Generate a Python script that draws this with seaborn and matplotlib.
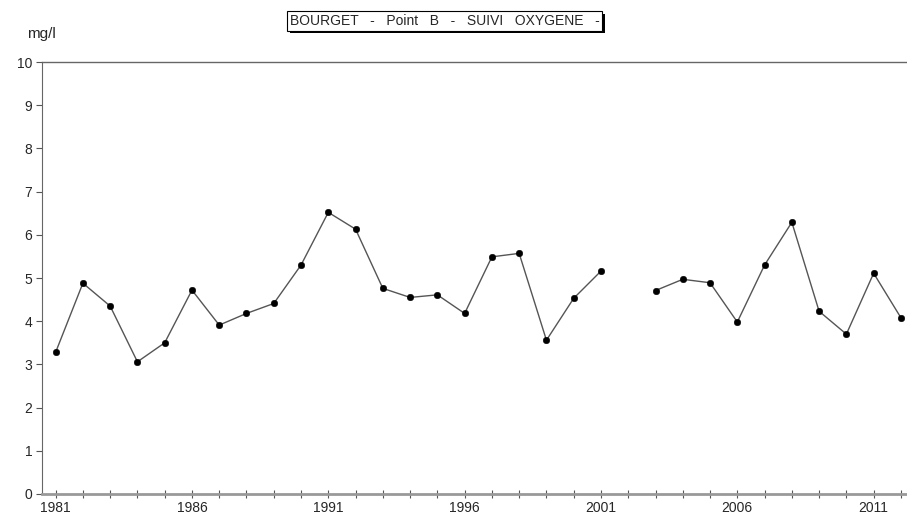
import numpy as np
import pandas as pd
import seaborn as sns
import matplotlib.pyplot as plt
import matplotlib.patheffects as pe
from matplotlib.ticker import MultipleLocator

# valeurs (2002 manquant)
years = list(range(1981, 2013))
oxygen = [3.28, 4.88, 4.35, 3.06, 3.50, 4.72, 3.91, 4.18, 4.41, 5.30,
          6.52, 6.13, 4.76, 4.55, 4.61, 4.18, 5.49, 5.57, 3.56, 4.53,
          5.16, np.nan, 4.71, 4.97, 4.89, 3.98, 5.30, 6.29, 4.23, 3.70,
          5.11, 4.08]
xtick_years = [1981, 1986, 1991, 1996, 2001, 2006, 2011]

data = pd.DataFrame({"annee": years, "o2": oxygen})
# segment pour couper la ligne au trou de 2002
data["segment"] = data["o2"].isna().cumsum()
data = data.dropna()

sns.set_style("white")
plt.rcParams["font.family"] = ["Liberation Sans", "DejaVu Sans"]

fig = plt.figure(figsize=(9.07, 5.19), dpi=100)
ax = fig.add_axes([0.0463, 0.0482, 0.953, 0.8323])

sns.lineplot(data=data, x="annee", y="o2", units="segment", estimator=None,
             color="#555555", linewidth=1.0, ax=ax)
sns.scatterplot(data=data, x="annee", y="o2", color="black", s=22,
                edgecolor="black", ax=ax, zorder=3)

ax.set_xlim(1980.5, 2012.2)
ax.set_ylim(0, 10)
ax.set_xticks(xtick_years)
ax.xaxis.set_minor_locator(MultipleLocator(1))
ax.yaxis.set_major_locator(MultipleLocator(1))
ax.set_xlabel("")
ax.set_ylabel("")

# axes façon tableur
ax.spines["right"].set_visible(False)
ax.spines["top"].set_color("#666666")
ax.spines["top"].set_linewidth(1.0)
ax.spines["left"].set_color("#666666")
ax.spines["bottom"].set_color("#999999")
ax.spines["bottom"].set_linewidth(2.0)
ax.tick_params(axis="x", which="both", direction="inout", length=6,
               width=0.8, color="#555555", labelsize=10, pad=2, bottom=True)
ax.tick_params(axis="y", which="major", direction="out", length=4,
               width=0.8, color="#555555", labelsize=10, left=True, pad=3)

fig.text(0.046, 0.935, "mg/l", fontsize=11, ha="center", va="center")

# titre encadré avec ombre
title = "BOURGET   -   Point   B   -   SUIVI   OXYGENE   -"
t = fig.text(0.49, 0.960, title, fontsize=10, ha="center", va="center",
             bbox=dict(boxstyle="square,pad=0.2", fc="white", ec="black", lw=0.8))
t.get_bbox_patch().set_path_effects([
    pe.SimplePatchShadow(offset=(2, -2), shadow_rgbFace="black", alpha=1.0),
    pe.Normal()])

fig.savefig("out.png", dpi=100)
